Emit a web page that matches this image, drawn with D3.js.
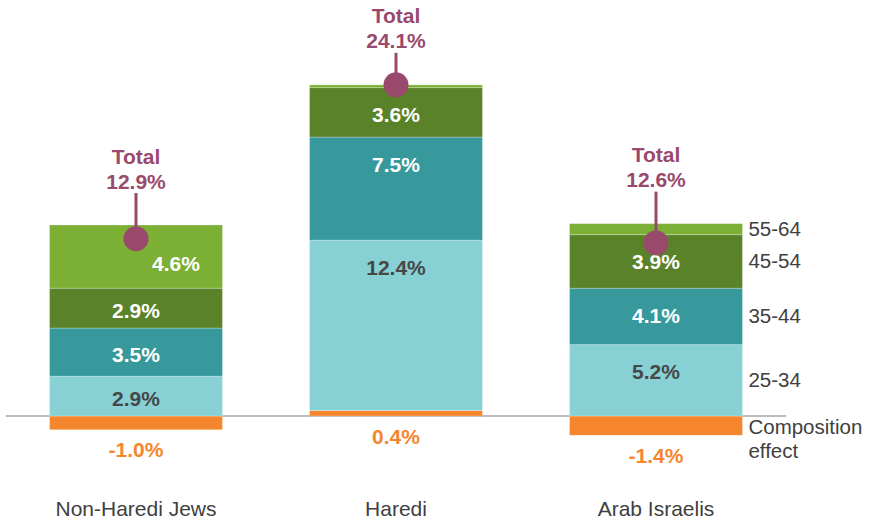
<!DOCTYPE html>
<html lang="en">
<head>
  <meta charset="UTF-8">
  <title>Employment growth decomposition</title>
  <script src="https://d3js.org/d3.v7.min.js"></script>
  <style>
    body { margin: 0; background: #fff; }
    svg { display: block; font-family: Arial, "Liberation Sans", sans-serif; }
  </style>
</head>
<body>
  <svg width="870" height="522"></svg>

  <script>
    const categories = ["Non-Haredi Jews", "Haredi", "Arab Israelis"];
    const seriesNames = ["Composition effect", "25-34", "35-44", "45-54", "55-64"];
    const composition = [-1.0, 0.4, -1.4];
    const age25_34 = [2.9, 12.4, 5.2];
    const age35_44 = [3.5, 7.5, 4.1];
    const age45_54 = [2.9, 3.6, 3.9];
    const age55_64 = [4.6, 0.2, 0.8];
    const totals = [12.9, 24.1, 12.6];

    const width = 870;
    const height = 522;
    const svg = d3.select("svg");

    const colors = ["#f5862e", "#87d1d5", "#38999d", "#5a8229", "#7bb034"];
    const labelColors = ["#f5862e", "#474747", "#fff", "#fff", "#fff"];
    const totalColor = "#994a6c";

    const x = d3.scaleBand()
      .domain(categories)
      .range([6, 786])
      .paddingInner(0.335)
      .paddingOuter(0.1675);

    const y = d3.scaleLinear()
      .domain([0, 24.1])
      .range([416, 416 - 24.1 * 13.74]);

    const series = [composition, age25_34, age35_44, age45_54, age55_64];

    // stack: negatives go below zero, positives stack upward from zero
    const stacked = categories.map((cat, i) => {
      let pos = 0;
      return series.map((s, k) => {
        const v = s[i];
        let y0, y1;
        if (v < 0) { y0 = v; y1 = 0; }
        else { y0 = pos; y1 = pos + v; pos += v; }
        return { cat, i, k, v, y0, y1 };
      });
    });
    const segs = stacked.flat();

    // baseline
    svg.append("line")
      .attr("x1", 6).attr("x2", 786)
      .attr("y1", y(0)).attr("y2", y(0))
      .attr("stroke", "#a6a6a6").attr("stroke-width", 1.5);

    svg.append("g").selectAll("rect")
      .data(segs)
      .join("rect")
      .attr("x", d => x(d.cat))
      .attr("width", x.bandwidth())
      .attr("y", d => y(d.y1))
      .attr("height", d => y(d.y0) - y(d.y1))
      .attr("fill", d => colors[d.k])
      .attr("stroke", "rgba(255,255,255,0.25)")
      .attr("stroke-width", 1);

    // value labels inside segments (not for tiny ones / composition)
    const inner = segs.filter(d => d.k > 0 && y(d.y0) - y(d.y1) > 30);
    svg.append("g").selectAll("text")
      .data(inner)
      .join("text")
      .attr("x", d => {
        const cx = x(d.cat) + x.bandwidth() / 2;
        return d.k === 4 ? cx + 40 : cx;   // shift away from total marker
      })
      .attr("y", d => {
        const top = y(d.y1), bot = y(d.y0);
        let c = Math.min((top + bot) / 2, top + 25);
        if (d.k === 4) c += 11;
        return c + 4;
      })
      .attr("text-anchor", "middle")
      .attr("dominant-baseline", "middle")
      .attr("font-size", 21)
      .attr("font-weight", "bold")
      .attr("fill", d => labelColors[d.k])
      .text(d => d.v.toFixed(1) + "%");

    // composition labels below bars
    svg.append("g").selectAll("text")
      .data(categories)
      .join("text")
      .attr("x", d => x(d) + x.bandwidth() / 2)
      .attr("y", (d, i) => y(Math.min(0, composition[i])) + 22)
      .attr("text-anchor", "middle")
      .attr("dominant-baseline", "middle")
      .attr("font-size", 21)
      .attr("font-weight", "bold")
      .attr("fill", colors[0])
      .text((d, i) => composition[i].toFixed(1) + "%");

    // totals: label, stem and dot
    categories.forEach((cat, i) => {
      const cx = x(cat) + x.bandwidth() / 2;
      const top = y(stacked[i][4].y1);
      const g = svg.append("g");
      g.append("line")
        .attr("x1", cx).attr("x2", cx)
        .attr("y1", top - 32).attr("y2", y(totals[i]))
        .attr("stroke", totalColor).attr("stroke-width", 3);
      g.append("circle")
        .attr("cx", cx).attr("cy", y(totals[i]))
        .attr("r", 12.5)
        .attr("fill", totalColor);
      g.append("text")
        .attr("x", cx).attr("y", top - 67)
        .attr("text-anchor", "middle")
        .attr("dominant-baseline", "middle")
        .attr("font-size", 21).attr("font-weight", "bold")
        .attr("fill", totalColor)
        .text("Total");
      g.append("text")
        .attr("x", cx).attr("y", top - 42)
        .attr("text-anchor", "middle")
        .attr("dominant-baseline", "middle")
        .attr("font-size", 21).attr("font-weight", "bold")
        .attr("fill", totalColor)
        .text(totals[i].toFixed(1) + "%");
    });

    // category labels
    svg.append("g").selectAll("text")
      .data(categories)
      .join("text")
      .attr("x", d => x(d) + x.bandwidth() / 2)
      .attr("y", 510)
      .attr("text-anchor", "middle")
      .attr("dominant-baseline", "middle")
      .attr("font-size", 21)
      .attr("fill", "#404040")
      .text(d => d);

    // series labels beside last bar
    const last = stacked[stacked.length - 1];
    const lx = x(categories[categories.length - 1]) + x.bandwidth() + 6;
    last.forEach(d => {
      const cy = (y(d.y0) + y(d.y1)) / 2;
      const t = svg.append("text")
        .attr("x", lx)
        .attr("font-size", 20.5)
        .attr("fill", "#404040")
        .attr("dominant-baseline", "middle");
      if (d.k === 0) {
        t.append("tspan").attr("x", lx).attr("y", cy + 3).text("Composition");
        t.append("tspan").attr("x", lx).attr("y", cy + 27).text("effect");
      } else {
        t.attr("y", cy + 1).text(seriesNames[d.k]);
      }
    });
  </script>
</body>
</html>
